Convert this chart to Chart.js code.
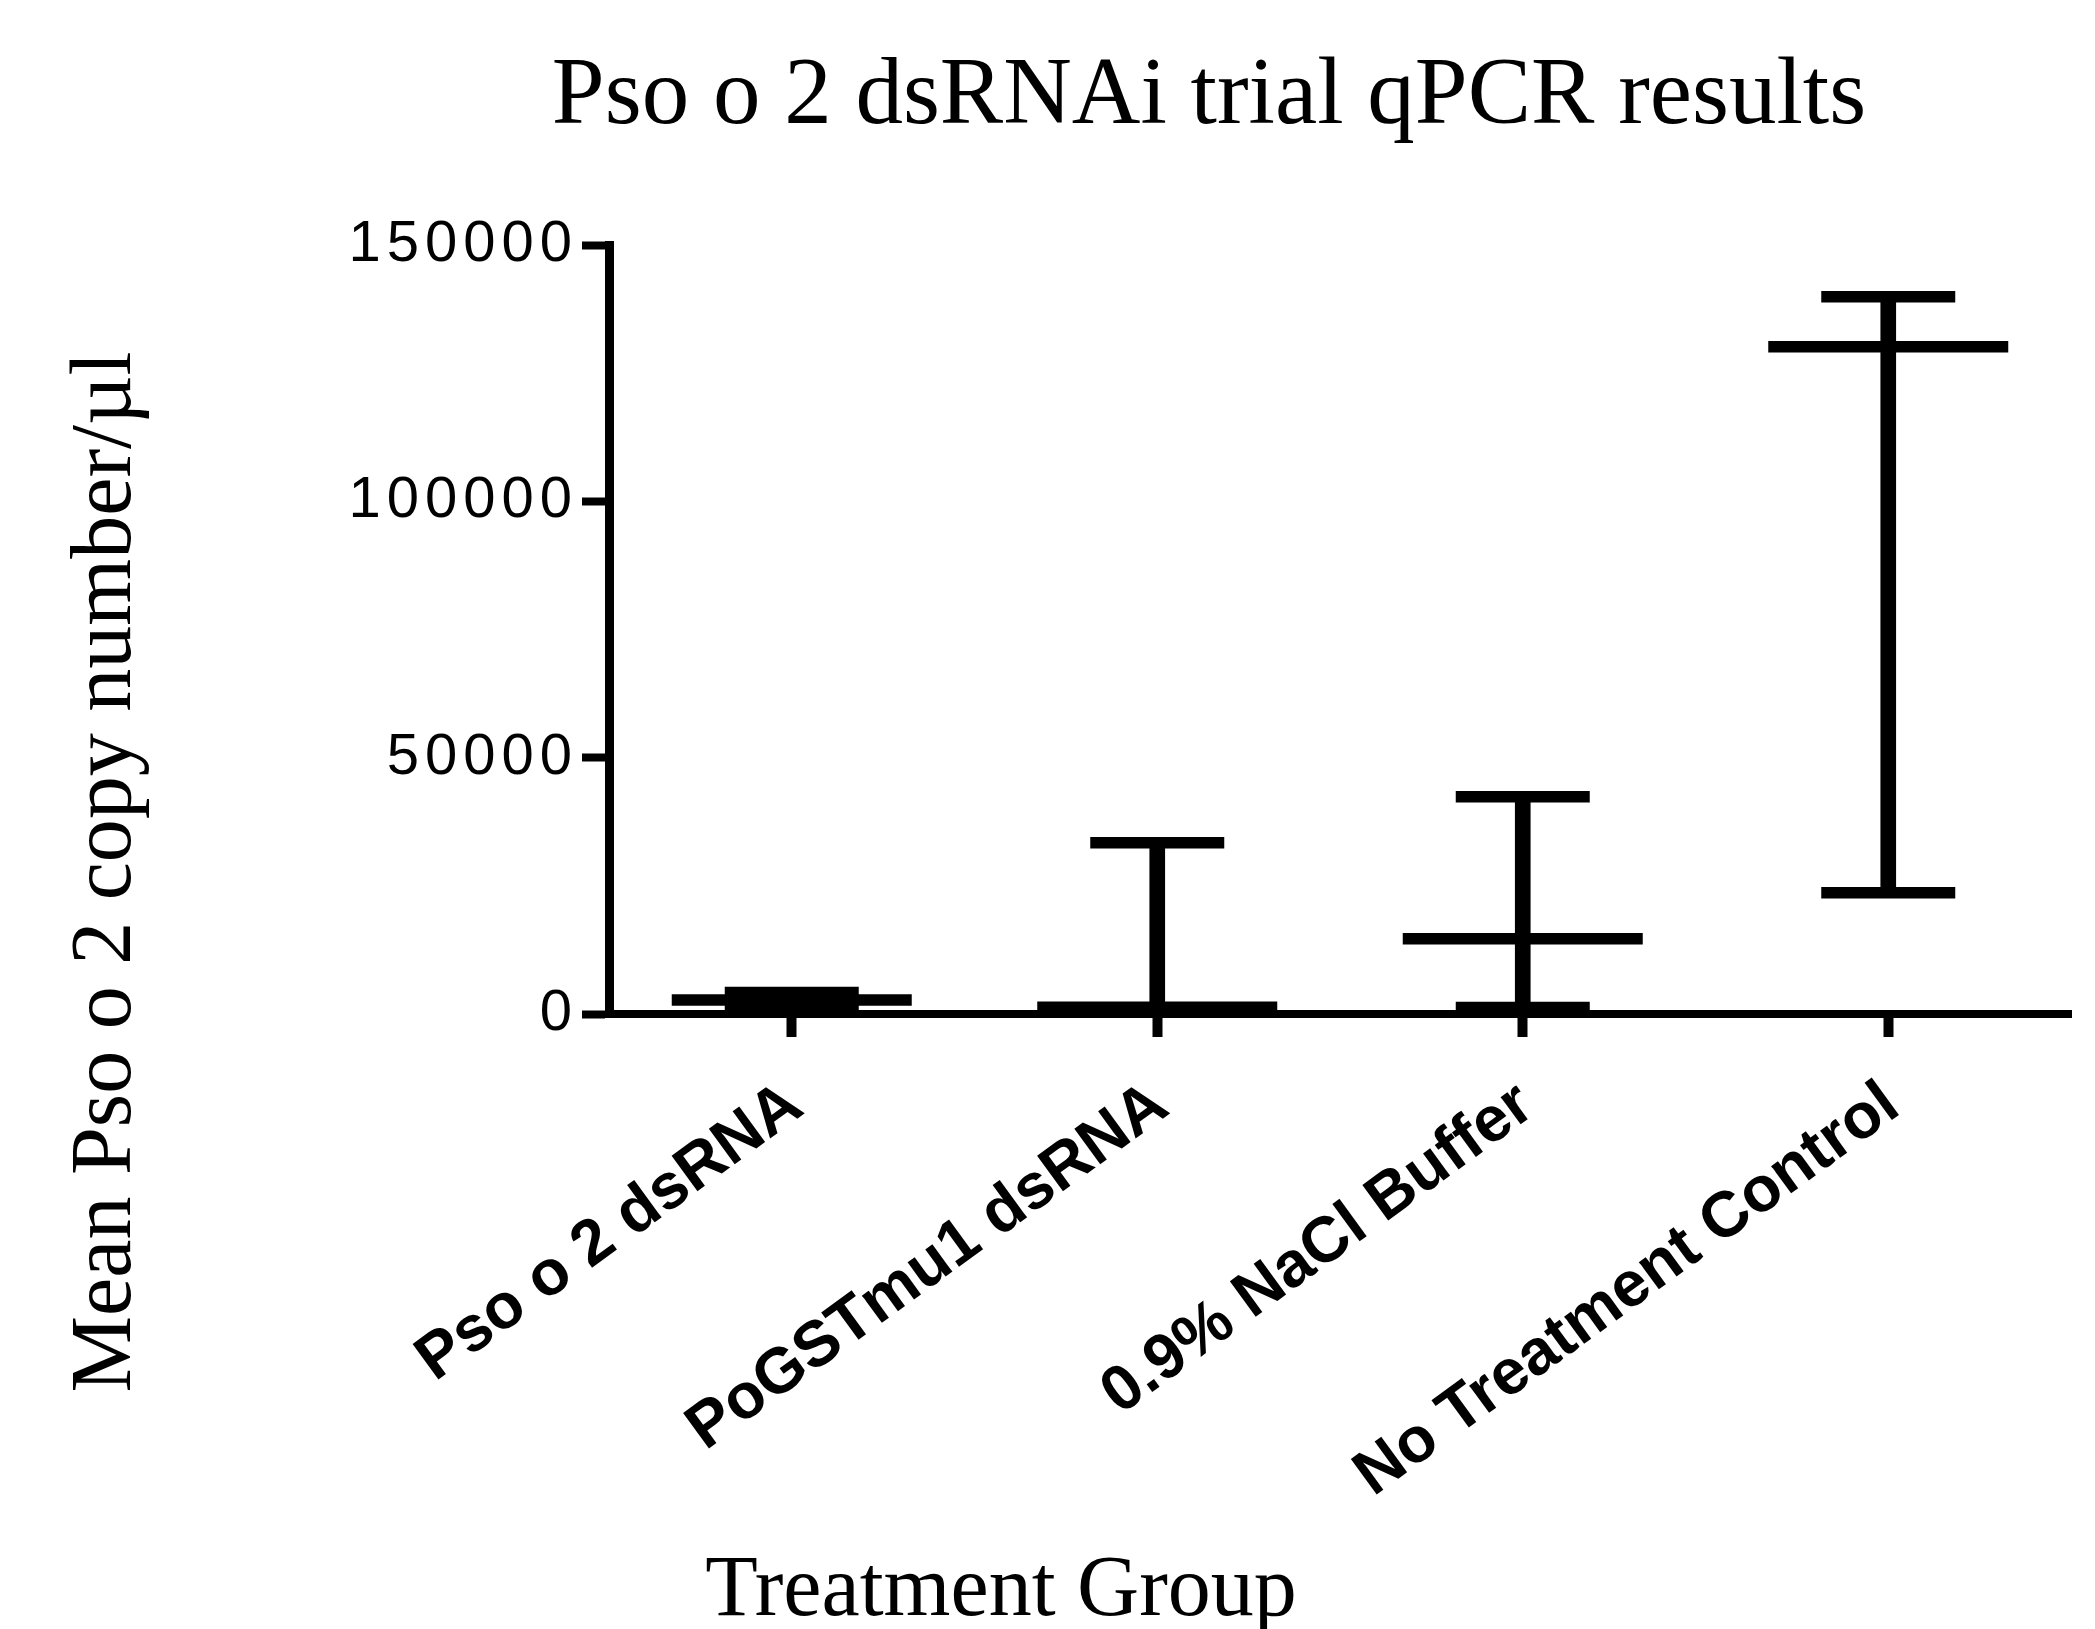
<!DOCTYPE html>
<html>
<head>
<meta charset="utf-8">
<script src="https://cdn.jsdelivr.net/npm/chart.js@4/dist/chart.umd.min.js"></script>
<style>
  html, body { margin: 0; padding: 0; background: #ffffff; }
  #wrap { width: 2095px; height: 1629px; position: relative; }
</style>
</head>
<body>
<div id="wrap"><canvas id="chart"></canvas></div>
<script>
// ---- data ----
const categories = ['Pso o 2 dsRNA', 'PoGSTmu1 dsRNA', '0.9% NaCl Buffer', 'No Treatment Control'];
const centralValues = [2730, 1300, 14670, 130150];   // middle (wide) line
const upperValues   = [4190, 33390, 42380, 139890];  // upper whisker cap
const lowerValues   = [1500, 800, 1270, 23640];      // lower whisker cap
const yTickValues   = [0, 50000, 100000, 150000];
const chartTitle = 'Pso o 2 dsRNAi trial qPCR results';
const xAxisTitle = 'Treatment Group';
const yAxisTitle = 'Mean Pso o 2 copy number/\u00b5l';

const rangeValues = categories.map((c, i) => [lowerValues[i], upperValues[i]]);

const textPlugin = {
  id: 'texts',
  afterLayout(chart) {
    const ys = chart.scales.y;
    if (ys && !ys._lsPatched) {
      const orig = ys.drawLabels;
      ys.drawLabels = function (area) {
        const c = this.ctx;
        c.save();
        c.letterSpacing = '6px';
        orig.call(this, area);
        c.restore();
      };
      ys._lsPatched = true;
    }
  },
  afterDraw(chart) {
    const c = chart.ctx;
    c.save();
    c.letterSpacing = '0px';
    c.fillStyle = '#000';
    c.textAlign = 'center';
    c.textBaseline = 'alphabetic';
    c.font = '95px "Liberation Serif"';
    c.fillText(chartTitle, 1209, 123);
    c.font = '86px "Liberation Serif"';
    c.fillText(xAxisTitle, 1001, 1615);
    c.translate(130, 872);
    c.rotate(-Math.PI / 2);
    c.font = '86px "Liberation Serif"';
    c.fillText(yAxisTitle, 0, 0);
    c.restore();
  }
};

const capStyle = {
  type: 'line', showLine: false, pointStyle: 'line',
  pointBorderColor: '#000', pointBackgroundColor: '#000',
  pointBorderWidth: 11.5, pointHoverRadius: 0, clip: false
};

new Chart(document.getElementById('chart'), {
  type: 'bar',
  data: {
    labels: categories,
    datasets: [
      { type: 'bar', data: rangeValues, backgroundColor: '#000', borderWidth: 0, barThickness: 15, order: 5 },
      Object.assign({}, capStyle, { data: upperValues, pointRadius: 67, order: 1 }),
      Object.assign({}, capStyle, { data: lowerValues, pointRadius: 67, order: 2 }),
      Object.assign({}, capStyle, { data: centralValues, pointRadius: 120, order: 3 })
    ]
  },
  options: {
    responsive: true,
    maintainAspectRatio: false,
    animation: false,
    layout: { autoPadding: false, padding: { top: 245, right: 24, left: 0, bottom: 0 } },
    plugins: { legend: { display: false }, tooltip: { enabled: false }, title: { display: false } },
    scales: {
      x: {
        offset: true,
        grid: { offset: false, drawOnChartArea: false, drawTicks: true, tickLength: 23, tickWidth: 10, tickColor: '#000', color: '#000' },
        border: { display: true, width: 8, color: '#000' },
        ticks: {
          font: { family: 'Liberation Sans', weight: 'bold', size: 64 },
          color: '#000', minRotation: 36, maxRotation: 36, padding: 30, autoSkip: false, labelOffset: 4
        },
        afterFit(s) {
          s.height = 1629 - 1014;
          s.paddingLeft = 0; s.paddingRight = 0; s.paddingTop = 0; s.paddingBottom = 0;
        }
      },
      y: {
        min: 0, max: 150000,
        afterBuildTicks(s) { s.ticks = yTickValues.map(v => ({ value: v })); },
        grid: { drawOnChartArea: false, drawTicks: true, tickLength: 27, tickWidth: 8, tickColor: '#000', color: '#000' },
        border: { display: true, width: 9, color: '#000' },
        ticks: {
          font: { family: 'Liberation Sans', size: 58 },
          color: '#000', padding: 4,
          callback: (v) => String(v)
        },
        afterFit(s) { s.width = 609; }
      }
    }
  },
  plugins: [textPlugin]
});
</script>
</body>
</html>
